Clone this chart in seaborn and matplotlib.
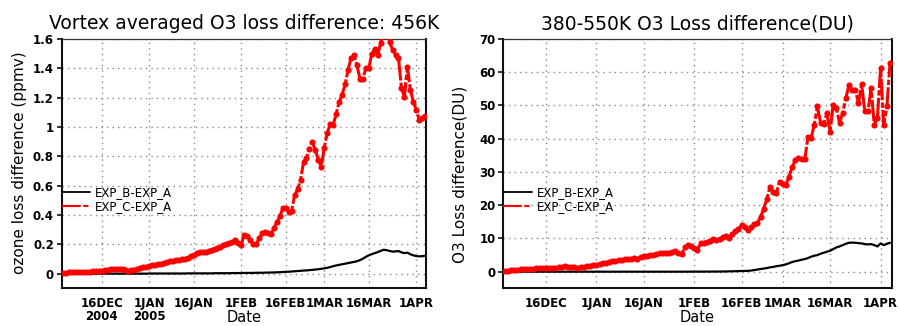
import numpy as np
import pandas as pd
import matplotlib
matplotlib.use("Agg")
import matplotlib.pyplot as plt
import seaborn as sns
from matplotlib.lines import Line2D

# ---------------- data (daily, 3 Dec 2004 .. 4 Apr 2005) ----------------
dates = pd.date_range("2004-12-03", "2005-04-04", freq="D")

left_B = [0.000]*9 + [0.000]*10 + [0.000]*10 + [0.001]*10 + \
    [0.001, 0.001, 0.001, 0.002, 0.002, 0.002, 0.002, 0.002, 0.002, 0.002,
     0.002, 0.002, 0.003, 0.003, 0.003, 0.003, 0.003,
     0.003, 0.004, 0.004, 0.004, 0.004, 0.005, 0.005, 0.005, 0.005, 0.006,
     0.006, 0.006, 0.007, 0.007, 0.008, 0.008, 0.009, 0.010, 0.011, 0.012,
     0.013, 0.015, 0.016, 0.018, 0.019, 0.021, 0.022, 0.024, 0.026, 0.028,
     0.030, 0.033, 0.036, 0.040, 0.045, 0.051, 0.056, 0.060, 0.064, 0.068,
     0.072, 0.076, 0.080, 0.085, 0.092, 0.102, 0.115, 0.125, 0.133, 0.140,
     0.147, 0.155, 0.163, 0.160, 0.155, 0.150, 0.152, 0.154, 0.145, 0.140,
     0.143, 0.132, 0.125, 0.120, 0.118, 0.119, 0.122]

left_C = [0.005, 0.006, 0.008, 0.008, 0.009, 0.010, 0.011, 0.012, 0.013,
          0.013, 0.015, 0.016, 0.018, 0.019, 0.022, 0.028, 0.032, 0.030, 0.033,
          0.035, 0.033, 0.026, 0.020, 0.022, 0.028, 0.034, 0.038, 0.042, 0.046,
          0.052, 0.058, 0.060, 0.066, 0.068, 0.072, 0.080, 0.084, 0.088, 0.092,
          0.095, 0.098, 0.100, 0.110, 0.118, 0.130, 0.140, 0.148, 0.145, 0.150,
          0.156, 0.160, 0.165, 0.172, 0.180, 0.192, 0.200,
          0.209, 0.215, 0.227, 0.210, 0.197, 0.265, 0.256, 0.230, 0.205, 0.200,
          0.240, 0.275, 0.285, 0.275, 0.270, 0.310, 0.350, 0.390, 0.445, 0.447,
          0.420, 0.430, 0.535, 0.575, 0.640, 0.760, 0.790, 0.850, 0.895, 0.840,
          0.776, 0.730, 0.860, 0.960, 1.020, 1.014, 1.090, 1.170, 1.220, 1.290,
          1.389, 1.470, 1.490, 1.420, 1.330, 1.330, 1.400, 1.400, 1.500, 1.530,
          1.490, 1.575, 1.650, 1.680, 1.580, 1.525, 1.490, 1.468, 1.264, 1.207,
          1.411, 1.253, 1.173, 1.116, 1.048, 1.060, 1.075]

right_B = [0.0]*9 + [0.0]*10 + [0.0]*10 + [0.0]*10 + [0.0]*10 + [0.0]*7 + \
    [0.0, 0.0, 0.0, 0.01, 0.01, 0.01, 0.02, 0.02, 0.03, 0.03,
     0.04, 0.04, 0.05, 0.05, 0.08, 0.1, 0.12, 0.15, 0.18, 0.2,
     0.22, 0.25, 0.35, 0.5, 0.65, 0.8, 0.95, 1.1, 1.3, 1.45,
     1.65, 1.8, 1.95, 2.2, 2.55, 2.9, 3.15, 3.35, 3.6, 3.8,
     4.1, 4.5, 4.8, 5.0, 5.4, 5.7, 6.0, 6.3, 6.8, 7.3,
     7.6, 8.0, 8.4, 8.7, 8.75, 8.7, 8.6, 8.5, 8.3, 8.2,
     8.3, 8.0, 7.6, 8.5, 8.0, 8.4, 8.7]

right_C = [0.2, 0.3, 0.45, 0.55, 0.65, 0.7, 0.75, 0.85, 0.9,
           0.95, 1.0, 1.05, 1.1, 1.15, 1.2, 1.25, 1.25, 1.3, 1.4,
           1.6, 1.5, 1.4, 1.3, 1.25, 1.3, 1.45, 1.6, 1.75, 1.9,
           2.1, 2.3, 2.5, 2.7, 2.9, 3.1, 3.3, 3.5, 3.6, 3.7,
           3.8, 3.9, 4.0, 3.9, 4.4, 4.7, 4.8, 4.95, 5.1, 5.3,
           5.5, 5.75, 5.6, 5.5, 5.9, 6.25, 5.6,
           5.3, 7.4, 8.1, 7.8, 7.0, 6.6, 8.5, 8.7, 9.0, 9.3,
           9.7, 9.6, 9.7, 10.3, 10.6, 10.0, 11.3, 12.2, 12.8, 14.0,
           13.3, 12.5, 13.5, 14.2, 14.7, 16.5, 19.0, 22.0, 25.6, 24.0,
           23.6, 27.1, 26.5, 26.1, 28.6, 31.5, 33.6, 34.1, 33.9, 33.8,
           40.6, 40.2, 44.2, 49.7, 44.7, 44.5, 47.7, 42.1, 50.2, 49.2,
           44.7, 47.7, 52.2, 56.2, 54.7, 54.7, 50.7, 56.4, 48.2, 48.2,
           55.2, 44.2, 46.2, 61.3, 44.2, 49.7, 62.8]

series_names = ["EXP_B-EXP_A", "EXP_C-EXP_A"]
tick_dates = ["2004-12-16", "2005-01-01", "2005-01-16", "2005-02-01",
              "2005-02-16", "2005-03-01", "2005-03-16", "2005-04-01"]
tick_labels_left = ["16DEC\n2004", "1JAN\n2005", "16JAN", "1FEB",
                    "16FEB", "1MAR", "16MAR", "1APR"]
tick_labels_right = ["16DEC", "1JAN", "16JAN", "1FEB",
                     "16FEB", "1MAR", "16MAR", "1APR"]
left_yticks = [0, 0.2, 0.4, 0.6, 0.8, 1.0, 1.2, 1.4, 1.6]
left_yticklabels = ["0", "0.2", "0.4", "0.6", "0.8", "1", "1.2", "1.4", "1.6"]
right_yticks = [0, 10, 20, 30, 40, 50, 60, 70]

# ---------------- style ----------------
sns.set_style("white")
plt.rcParams["font.family"] = ["DejaVu Sans"]
plt.rcParams["text.color"] = "black"
plt.rcParams["axes.labelcolor"] = "black"
plt.rcParams["xtick.color"] = "black"
plt.rcParams["ytick.color"] = "black"

fig = plt.figure(figsize=(8.99, 3.26), dpi=100)
axL = fig.add_axes([0.0686, 0.1156, 0.4052, 0.7648])
axR = fig.add_axes([0.5598, 0.1156, 0.4320, 0.7648])

red_dash = (0, (7, 0.7, 1.8, 0.7))


def draw(ax, B, C, ylim, yticks, yticklabels, xticklabels, title, ylabel,
         xlim_end, ylabel_xy, legend_y):
    df = pd.DataFrame({"date": dates, "B": B, "C": C})
    sns.lineplot(data=df, x="date", y="B", ax=ax, color="black", lw=1.6,
                 zorder=3, legend=False)
    sns.lineplot(data=df, x="date", y="C", ax=ax, color="#ff0000", lw=2.2,
                 linestyle=red_dash, marker="o", markersize=4.4,
                 markeredgewidth=0, zorder=4, legend=False)
    ax.set_xlim(pd.Timestamp("2004-12-02 12:00"), pd.Timestamp(xlim_end))
    ax.set_ylim(*ylim)
    ax.set_xticks(pd.to_datetime(tick_dates))
    ax.set_xticklabels(xticklabels, fontsize=8.5, fontweight="bold",
                       linespacing=1.05, color="black")
    ax.set_yticks(yticks)
    ax.set_yticklabels(yticklabels, fontsize=8.5, fontweight="bold",
                       color="black")
    ax.tick_params(axis="x", length=0, pad=6)
    ax.tick_params(axis="y", direction="out", length=3.6, width=1.2,
                   pad=2, left=True, color="#111111")
    ax.grid(True, color="#8a8a8a", linestyle=(0, (1, 3)), linewidth=1.0)
    ax.set_axisbelow(True)
    for s in ["left", "right", "bottom"]:
        ax.spines[s].set_color("#111111")
        ax.spines[s].set_linewidth(1.5)
    ax.spines["top"].set_color("#333333")
    ax.spines["top"].set_linewidth(0.9)
    ax.spines["top"].set_linestyle((0, (2, 1)))
    ax.set_title(title, fontsize=13.5, pad=7, color="black")
    ax.set_xlabel("Date", fontsize=10.5, va="top", color="black")
    ax.xaxis.set_label_coords(0.5, -0.088)
    ax.set_ylabel(ylabel, fontsize=11, color="black")
    ax.yaxis.set_label_coords(*ylabel_xy)
    handles = [Line2D([], [], color="black", lw=1.3),
               Line2D([], [], color="#ff0000", lw=1.5,
                      linestyle=(0, (9, 1.2, 2.5, 1.2)))]
    leg = ax.legend(handles, series_names, loc="upper left",
                    bbox_to_anchor=(0.0, legend_y), frameon=False,
                    fontsize=8.5, borderpad=0, borderaxespad=0,
                    handlelength=2.4, handletextpad=0.45, labelspacing=0.1)
    for t in leg.get_texts():
        t.set_color("black")


draw(axL, left_B, left_C, (-0.1, 1.6), left_yticks, left_yticklabels,
     tick_labels_left, "Vortex averaged O3 loss difference: 456K",
     "ozone loss difference (ppmv)", "2005-04-04 06:00", (-0.096, 0.505),
     0.41)
draw(axR, right_B, right_C, (-5, 70), right_yticks,
     [str(v) for v in right_yticks], tick_labels_right,
     "380-550K O3 Loss difference(DU)", "O3 Loss difference(DU)",
     "2005-04-04 12:00", (-0.091, 0.455), 0.41)

fig.savefig("out.png", dpi=100)
